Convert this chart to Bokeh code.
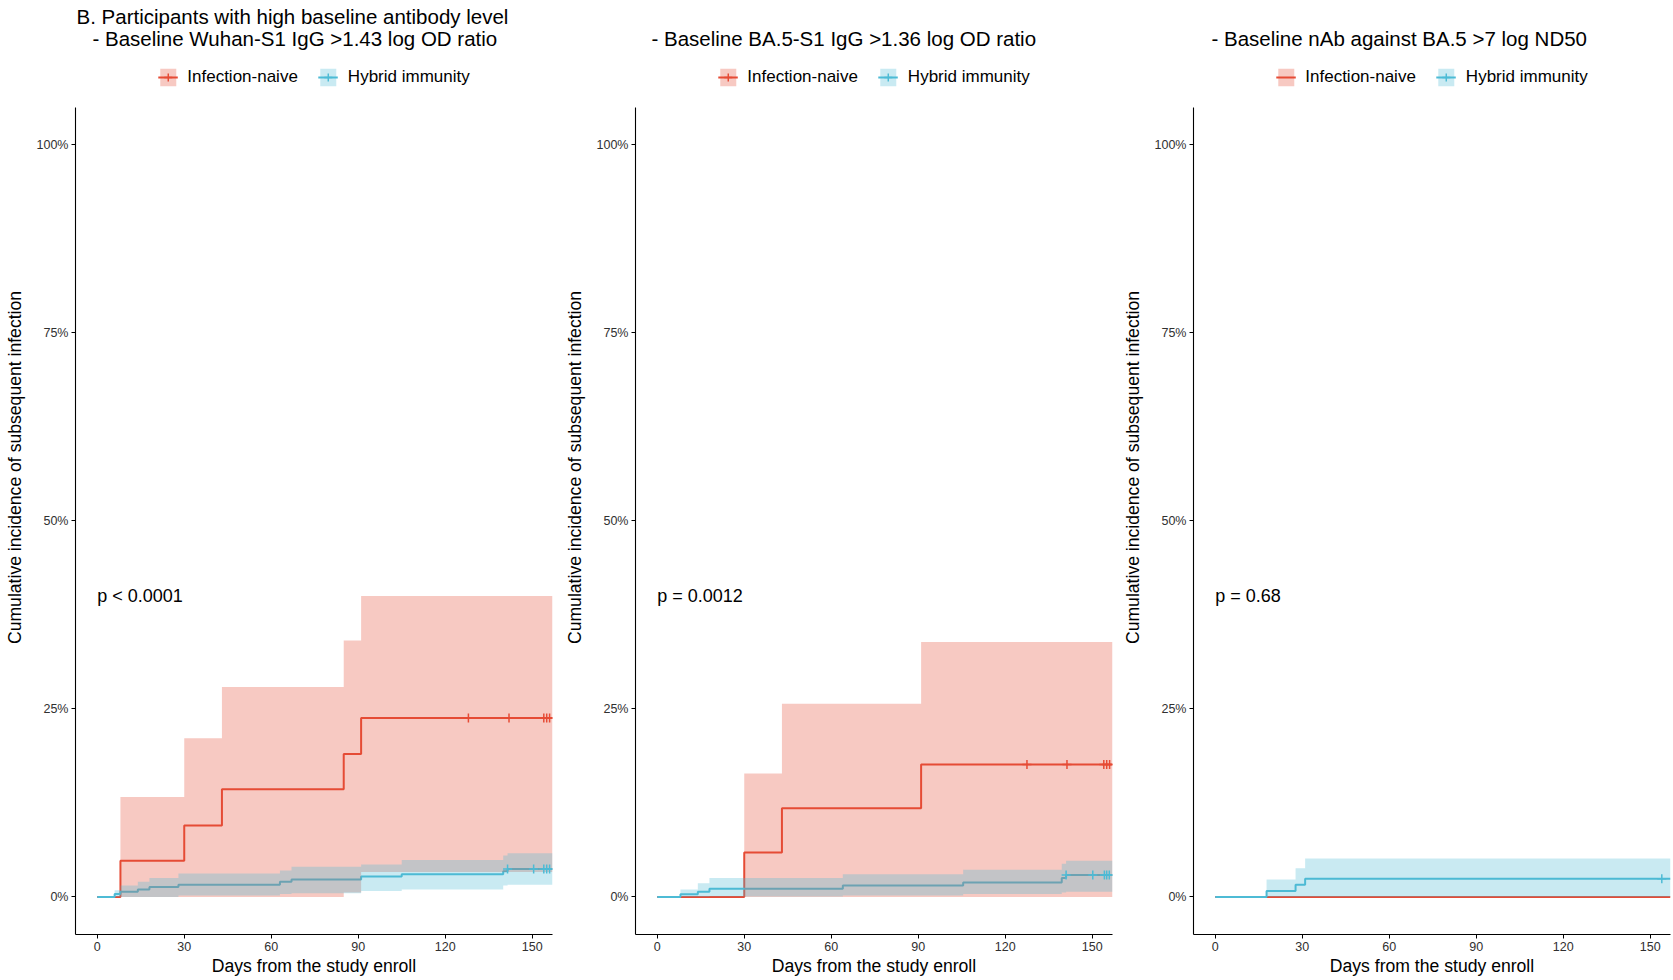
import numpy as np
from bokeh.plotting import figure
from bokeh.models import Range1d, FixedTicker, PrintfTickFormatter, Legend, LegendItem, Label
from bokeh.layouts import row
from bokeh.embed import file_html
from bokeh.resources import INLINE
from bokeh.core.properties import value

# ---------------- data ----------------
groups = ["Infection-naive", "Hybrid immunity"]
x_ticks = [0, 30, 60, 90, 120, 150]
y_ticks = [0, 25, 50, 75, 100]
x_label = "Days from the study enroll"
y_label = "Cumulative incidence of subsequent infection"

# Panel 1: Wuhan-S1 IgG
p1_titles = ["B. Participants with high baseline antibody level",
             "- Baseline Wuhan-S1 IgG >1.43 log OD ratio"]
p1_pval = "p < 0.0001"
p1_naive_t = [0, 8, 30, 43, 85, 91, 157]
p1_naive_y = [0, 4.8, 9.5, 14.3, 19.0, 23.8, 23.8]
p1_naive_lo = [0, 0, 0, 0, 0.6, 3.3, 3.3]
p1_naive_hi = [0, 13.3, 21.1, 27.9, 34.1, 40.0, 40.0]
p1_naive_cens = [128, 142, 154, 155, 156]
p1_hyb_t = [0, 6, 8, 14, 18, 28, 63, 67, 91, 105, 140, 141.5, 157]
p1_hyb_y = [0, 0.4, 0.7, 1.0, 1.3, 1.6, 2.0, 2.3, 2.7, 3.0, 3.4, 3.7, 3.7]
p1_hyb_lo = [0, 0, 0, 0, 0, 0.2, 0.4, 0.5, 0.8, 1.0, 1.5, 1.6, 1.6]
p1_hyb_hi = [0, 0.9, 1.5, 2.0, 2.5, 3.1, 3.5, 4.0, 4.3, 4.9, 5.5, 5.8, 5.8]
p1_hyb_cens = [141.5, 150.5, 154, 155, 156]

# Panel 2: BA.5-S1 IgG
p2_titles = ["- Baseline BA.5-S1 IgG >1.36 log OD ratio"]
p2_pval = "p = 0.0012"
p2_naive_t = [0, 30, 43, 91, 157]
p2_naive_y = [0, 5.9, 11.8, 17.6, 17.6]
p2_naive_lo = [0, 0, 0, 0, 0]
p2_naive_hi = [0, 16.4, 25.7, 33.9, 33.9]
p2_naive_cens = [127.5, 141.3, 154, 155, 156]
p2_hyb_t = [0, 8, 14, 18, 64, 105.5, 139.5, 141, 157]
p2_hyb_y = [0, 0.35, 0.7, 1.1, 1.5, 1.9, 2.5, 2.9, 2.9]
p2_hyb_lo = [0, 0, 0, 0.05, 0.2, 0.4, 0.6, 0.7, 0.7]
p2_hyb_hi = [0, 1.0, 1.8, 2.5, 3.0, 3.6, 4.4, 4.8, 4.8]
p2_hyb_cens = [141, 150.2, 154.2, 155, 155.9]

# Panel 3: nAb against BA.5
p3_titles = ["- Baseline nAb against BA.5 >7 log ND50"]
p3_pval = "p = 0.68"
p3_naive_t = [0, 157]
p3_naive_y = [0, 0]
p3_naive_lo = [0, 0]
p3_naive_hi = [0, 0]
p3_naive_cens = []
p3_hyb_t = [0, 17.7, 27.7, 31, 157]
p3_hyb_y = [0, 0.8, 1.6, 2.4, 2.4]
p3_hyb_lo = [0, 0, 0, 0, 0]
p3_hyb_hi = [0, 2.3, 3.8, 5.1, 5.1]
p3_hyb_cens = [154]

pval_x = 0
pval_y = 40

# ---------------- style ----------------
FONT = "Liberation Sans"
RED = "#E64B35"
BLUE = "#4DBBD5"
PANEL_H = 978
BORDER_L, BORDER_T, BORDER_B = 75, 0, 44
PX_PER_PCT = 7.52
X_START, X_END = -7.5, 157
Y_START = -5
FRAME_H = PANEL_H - BORDER_T - BORDER_B
Y_END = Y_START + FRAME_H / PX_PER_PCT
TITLE_PX_FROM_TOP = [16, 38]     # line centres, px below the frame top
LEGEND_MARGIN = 66


def step_value(t, y, at):
    t = np.asarray(t, float)
    if len(at) == 0:
        return []
    idx = np.searchsorted(t, np.asarray(at, float), side="right") - 1
    return list(np.asarray(y, float)[idx])


def make_panel(width, border_r, titles, title_offsets, pval, naive, hyb):
    p = figure(width=width, height=PANEL_H, x_range=Range1d(X_START, X_END),
               y_range=Range1d(Y_START, Y_END), output_backend="svg",
               toolbar_location=None, title=None,
               min_border_left=BORDER_L, min_border_right=border_r,
               min_border_top=BORDER_T, min_border_bottom=BORDER_B)
    p.outline_line_color = None
    p.grid.visible = False
    p.background_fill_color = "white"

    rend = {}
    for key, d, col in (("n", naive, RED), ("h", hyb, BLUE)):
        rend[key + "line"] = p.step(x=d["t"], y=d["y"], mode="after",
                                    line_color=col, line_width=2)
    for key, d, col in (("n", naive, RED), ("h", hyb, BLUE)):
        rend[key + "band"] = p.varea_step(x=d["t"], y1=d["lo"], y2=d["hi"],
                                          step_mode="after", fill_color=col,
                                          fill_alpha=0.3)
    for key, d, col in (("n", naive, RED), ("h", hyb, BLUE)):
        cy = step_value(d["t"], d["y"], d["c"])
        rend[key + "cens"] = p.scatter(x=list(d["c"]), y=cy, marker="cross",
                                       size=9, line_color=col, line_width=1.5)

    p.text(x=[pval_x], y=[pval_y], text=[pval], text_font=value(FONT),
           text_font_size="18px", text_baseline="middle", text_align="left",
           text_color="black")

    legend = Legend(items=[
        LegendItem(label=groups[0], renderers=[rend["nband"], rend["nline"], rend["ncens"]]),
        LegendItem(label=groups[1], renderers=[rend["hband"], rend["hline"], rend["hcens"]]),
    ], orientation="horizontal", location="top_center",
        margin=LEGEND_MARGIN, padding=2,
        spacing=20, label_standoff=10, glyph_width=20, glyph_height=22,
        label_text_font=FONT, label_text_font_size="17px",
        label_text_color="black", border_line_color=None,
        background_fill_alpha=0)
    p.add_layout(legend, "center")

    n = len(titles)
    for i, (t, off) in enumerate(zip(titles, title_offsets)):
        px = TITLE_PX_FROM_TOP[i + (2 - n)]
        p.add_layout(Label(x=X_START, y=Y_END - px / PX_PER_PCT, x_offset=off,
                           text=t, text_font=FONT, text_font_size="20.5px",
                           text_baseline="middle", text_align="left",
                           text_color="black"))

    p.xaxis.ticker = FixedTicker(ticks=x_ticks)
    p.yaxis.ticker = FixedTicker(ticks=y_ticks)
    p.yaxis.formatter = PrintfTickFormatter(format="%d%%")
    p.yaxis.bounds = (Y_START, 105)
    p.xaxis.axis_label = x_label
    p.yaxis.axis_label = y_label
    for ax in (p.xaxis[0], p.yaxis[0]):
        ax.axis_line_color = "black"
        ax.axis_line_width = 1.1
        ax.major_tick_line_color = "black"
        ax.major_tick_out = 4
        ax.major_tick_in = 0
        ax.minor_tick_line_color = None
        ax.major_label_text_font = FONT
        ax.major_label_text_font_size = "12.5px"
        ax.major_label_text_color = "#303030"
        ax.major_label_standoff = 3
        ax.axis_label_text_font = FONT
        ax.axis_label_text_font_size = "17.6px"
        ax.axis_label_text_font_style = "normal"
        ax.axis_label_text_color = "black"
    p.yaxis.axis_label_standoff = 9
    p.xaxis.axis_label_standoff = 2
    return p


panels = [
    (560, 8, p1_titles, [1, 17], p1_pval,
     dict(t=p1_naive_t, y=p1_naive_y, lo=p1_naive_lo, hi=p1_naive_hi, c=p1_naive_cens),
     dict(t=p1_hyb_t, y=p1_hyb_y, lo=p1_hyb_lo, hi=p1_hyb_hi, c=p1_hyb_cens)),
    (558, 6, p2_titles, [16], p2_pval,
     dict(t=p2_naive_t, y=p2_naive_y, lo=p2_naive_lo, hi=p2_naive_hi, c=p2_naive_cens),
     dict(t=p2_hyb_t, y=p2_hyb_y, lo=p2_hyb_lo, hi=p2_hyb_hi, c=p2_hyb_cens)),
    (554, 2, p3_titles, [18], p3_pval,
     dict(t=p3_naive_t, y=p3_naive_y, lo=p3_naive_lo, hi=p3_naive_hi, c=p3_naive_cens),
     dict(t=p3_hyb_t, y=p3_hyb_y, lo=p3_hyb_lo, hi=p3_hyb_hi, c=p3_hyb_cens)),
]

figs = [make_panel(*args) for args in panels]
layout = row(*figs)

open("out.html", "w").write(file_html(layout, INLINE))
